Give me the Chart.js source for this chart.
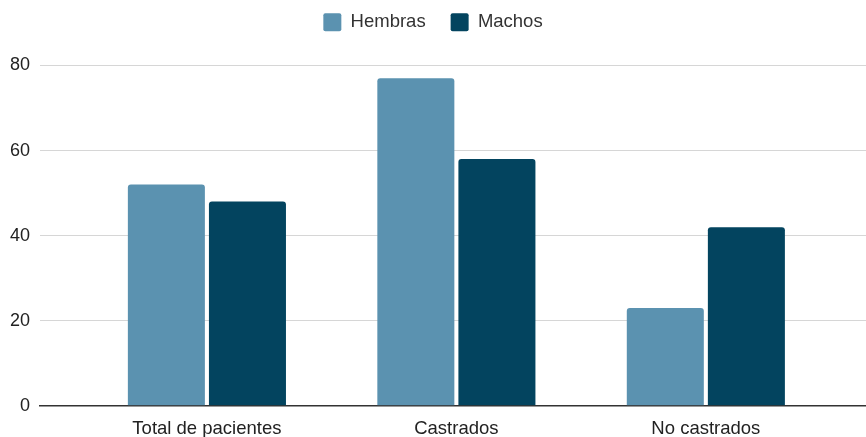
<!DOCTYPE html>
<html>
<head>
<meta charset="utf-8">
<script src="https://cdn.jsdelivr.net/npm/chart.js@4/dist/chart.umd.min.js"></script>
<style>
  html, body { margin: 0; padding: 0; background: #fff; }
  #wrap { width: 866px; height: 437px; }
</style>
</head>
<body>
<div id="wrap"><canvas id="chart"></canvas></div>
<script>
// --- DATA ---
const categories = ['Total de pacientes', 'Castrados', 'No castrados'];
const hembras = [52, 77, 23];
const machos = [48, 58, 42];
const yTicks = [0, 20, 40, 60, 80];

const toPoints = arr => arr.map((v, i) => ({ x: i, y: v }));

// extra room under the legend
const legendGap = {
  id: 'legendGap',
  beforeInit(chart) {
    const fit = chart.legend.fit;
    chart.legend.fit = function () {
      fit.bind(chart.legend)();
      this.height += 24;
    };
  }
};

new Chart(document.getElementById('chart'), {
  type: 'bar',
  data: {
    datasets: [
      { label: 'Hembras', data: toPoints(hembras), backgroundColor: '#5b92b0',
        borderRadius: 3, borderSkipped: 'bottom', categoryPercentage: 0.65, barPercentage: 0.95 },
      { label: 'Machos', data: toPoints(machos), backgroundColor: '#03445f',
        borderRadius: 3, borderSkipped: 'bottom', categoryPercentage: 0.65, barPercentage: 0.95 }
    ]
  },
  options: {
    responsive: true,
    maintainAspectRatio: false,
    animation: false,
    layout: { padding: { left: 0, right: 0, top: -12, bottom: -15 } },
    scales: {
      x: {
        type: 'linear',
        offset: false,
        min: -0.669,
        max: 2.642,
        grid: { display: false, drawTicks: false },
        border: { display: true, color: '#333', width: 1.5 },
        afterBuildTicks: scale => { scale.ticks = categories.map((_, i) => ({ value: i })); },
        ticks: {
          callback: v => categories[v],
          color: '#222',
          font: { family: 'Liberation Sans, Arial', size: 18.5 },
          padding: 12,
          maxRotation: 0,
          autoSkip: false
        }
      },
      y: {
        min: 0,
        max: 80,
        afterBuildTicks: scale => { scale.ticks = yTicks.map(v => ({ value: v })); },
        grid: {
          drawTicks: false,
          color: ctx => (ctx.tick && ctx.tick.value === 0) ? '#333' : '#d6d6d6'
        },
        border: { display: false },
        ticks: {
          color: '#222',
          font: { family: 'Liberation Sans, Arial', size: 18 },
          padding: 10
        }
      }
    },
    plugins: {
      legend: {
        position: 'top',
        labels: {
          boxWidth: 18,
          boxHeight: 18,
          color: '#333',
          font: { family: 'Liberation Sans, Arial', size: 18.5 },
          padding: 25,
          useBorderRadius: true,
          borderRadius: 2
        }
      },
      tooltip: { enabled: false }
    }
  },
  plugins: [legendGap]
});
</script>
</body>
</html>
